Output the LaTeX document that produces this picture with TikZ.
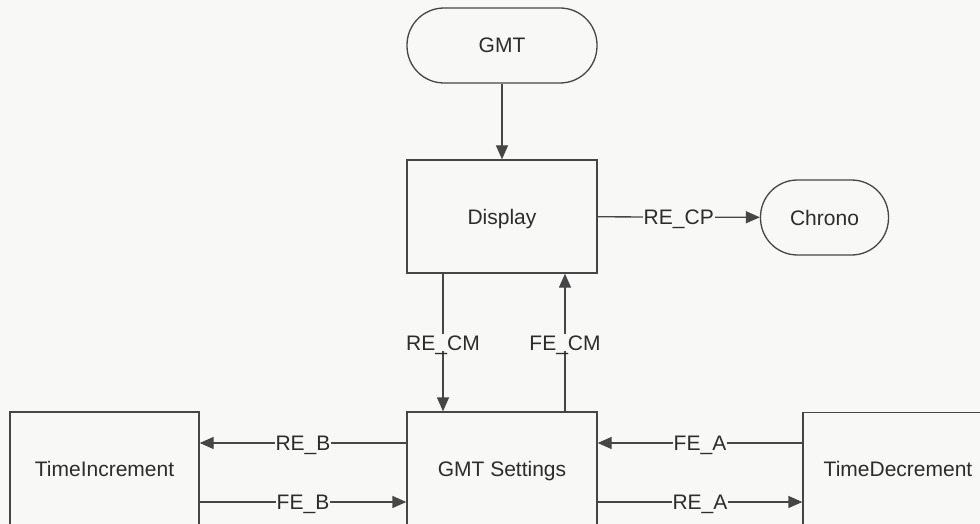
\documentclass[tikz,border=0pt]{standalone}
\usepackage{fontspec}
\setmainfont{Liberation Sans}
\usetikzlibrary{arrows.meta}
\definecolor{ln}{HTML}{464646}
\definecolor{tx}{HTML}{2C2C2C}
\definecolor{bg}{HTML}{F8F8F7}
\begin{document}
\begin{tikzpicture}[x=1pt,y=-1pt,
  every node/.style={font=\fontsize{21}{25}\selectfont, text=tx,
    text height=15pt, text depth=0pt},
  box/.style={draw=ln, line width=1.3pt, rectangle, inner sep=0pt,
    minimum width=190pt, minimum height=113pt, fill=bg},
  term/.style={draw=ln, line width=1.3pt, rectangle, rounded corners=37pt,
    inner sep=0pt, minimum height=75pt, fill=bg},
  conn/.style={draw=ln, line width=1.3pt, -{Triangle[length=14pt,width=12pt]}},
  lbl/.style={fill=bg, inner sep=1pt}]
\path[fill=bg] (0,0) rectangle (980,524);
\clip (0,0) rectangle (980,524);

\node[term, minimum width=190pt] (gmt) at (502,45.5) {GMT};
\node[box] (disp) at (502,216.5) {Display};
\node[term, minimum width=128pt] (chrono) at (824.5,217.5) {Chrono};
\node[box] (set) at (502,468.5) {GMT Settings};
\node[box, minimum width=189pt] (inc) at (104.5,468.5) {TimeIncrement};
\node[box] (dec) at (898,469) {TimeDecrement};

\coordinate (yu) at (0,443);
\coordinate (yd) at (0,502);
\coordinate (xl) at (443,0);
\coordinate (xr) at (565,0);

\draw[conn] (gmt) -- (disp);
\draw[conn] (disp) -- node[lbl]{RE\_CP} (chrono);
\draw[conn] (disp.south -| xl) -- node[lbl]{RE\_CM} (set.north -| xl);
\draw[conn] (set.north -| xr) -- node[lbl]{FE\_CM} (disp.south -| xr);
\draw[conn] (set.west |- yu) -- node[lbl]{RE\_B} (inc.east |- yu);
\draw[conn] (inc.east |- yd) -- node[lbl]{FE\_B} (set.west |- yd);
\draw[conn] (dec.west |- yu) -- node[lbl]{FE\_A} (set.east |- yu);
\draw[conn] (set.east |- yd) -- node[lbl]{RE\_A} (dec.west |- yd);
\end{tikzpicture}
\end{document}
